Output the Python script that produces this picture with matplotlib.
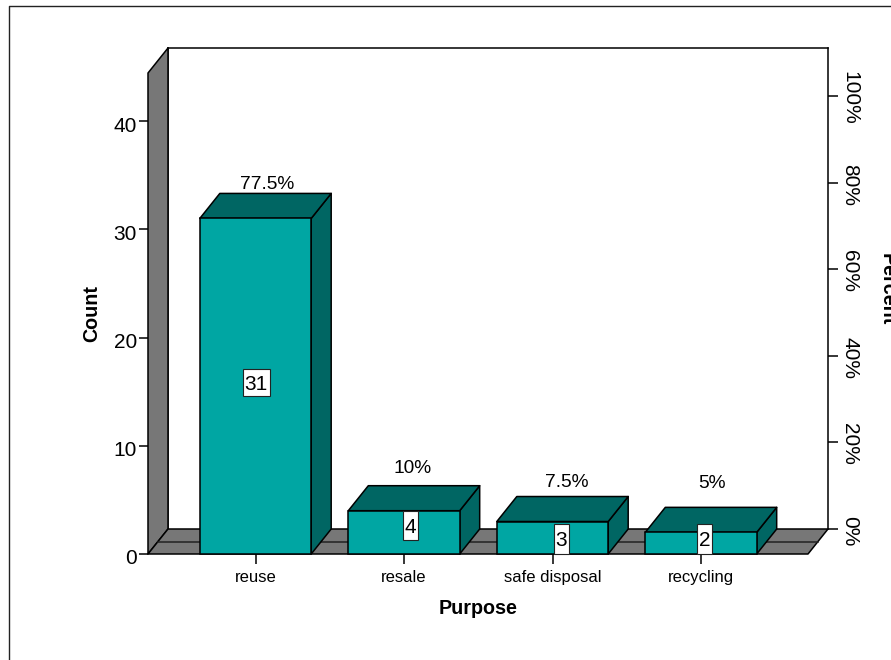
import matplotlib
matplotlib.use("Agg")
import matplotlib.pyplot as plt
from matplotlib.patches import Polygon, Rectangle
from matplotlib.transforms import ScaledTranslation

plt.rcParams["font.family"] = ["Liberation Sans", "DejaVu Sans"]

# Survey data
categories = ["reuse", "resale", "safe disposal", "recycling"]
counts = [31, 4, 3, 2]
percent_labels = ["77.5%", "10%", "7.5%", "5%"]
count_ticks = [0, 10, 20, 30, 40]
percent_ticks = [0, 20, 40, 60, 80, 100]
total_count = 40

# Colours
TEAL = "#00A6A3"
TEAL_DARK = "#006663"
WALL = "#777777"
INK = "#000000"

# Layout in pixels
W, H = 891, 660
FRONT_L, FRONT_R, FRONT_T, FRONT_B = 148, 808, 73, 554
DEPTH_X, DEPTH_Y = 20, 25
CAT_STEP = 148.5
CAT_START = 255.5
UNIT_PX = 10.825
BAR_WIDTH = 0.75
LW = 1.1

# Label placement relative to each bar, in pixels
pct_offset = [(2, 8.5), (-1, 17.5), (4.5, 14.5), (1, 23.5)]
box_center_y = [15.85, 2.6, 1.4, 1.4]
box_dx = [0.5, 6.5, 9, 3.5]
box_size = [(27, 27), (15, 29), (15, 30), (15, 30)]


def axes_rect(l, r, t, b):
    return [l / W, 1 - b / H, (r - l) / W, (b - t) / H]


fig = plt.figure(figsize=(W / 100, H / 100), dpi=100, facecolor="white")

# Outer frame, cut off by the right and bottom edges of the figure
fig.add_artist(plt.Line2D([9 / W, 9 / W, 1.0], [0, 1 - 6 / H, 1 - 6 / H],
                          transform=fig.transFigure, color="#222222", lw=1.0))

# Back plane carries the percent scale
back = fig.add_axes(axes_rect(FRONT_L + DEPTH_X, FRONT_R + DEPTH_X,
                              FRONT_T - DEPTH_Y, FRONT_B - DEPTH_Y), zorder=1)
back.set_ylim(0, (FRONT_B - FRONT_T) / UNIT_PX * 100 / total_count)
back.set_xlim(0, 1)
back.set_xticks([])
back.yaxis.tick_right()
back.set_yticks(percent_ticks)
back.set_yticklabels([f"{p}%" for p in percent_ticks], rotation=-90,
                     va="center", ha="left", fontsize=15, color=INK)
back.tick_params(axis="y", length=7.2, width=LW, pad=1.5)
back.spines["bottom"].set_visible(False)
for side in ("left", "right", "top"):
    back.spines[side].set_linewidth(LW)
shift_right = ScaledTranslation(0, -2 / 72 * 0.72, fig.dpi_scale_trans)
for lab in back.get_yticklabels():
    lab.set_transform(lab.get_transform() + shift_right)

# Front plane carries the count scale and the bars
ax = fig.add_axes(axes_rect(FRONT_L, FRONT_R, FRONT_T, FRONT_B), zorder=2)
ax.patch.set_visible(False)
x0 = (FRONT_L - CAT_START) / CAT_STEP
x1 = (FRONT_R - CAT_START) / CAT_STEP
y1 = (FRONT_B - FRONT_T) / UNIT_PX
ax.set_xlim(x0, x1)
ax.set_ylim(0, y1)
for side in ax.spines:
    ax.spines[side].set_visible(False)

dx = DEPTH_X / CAT_STEP
dy = DEPTH_Y / UNIT_PX
edge = dict(edgecolor=INK, linewidth=LW, joinstyle="round", clip_on=False)

# Left wall and floor
ax.add_patch(Polygon([(x0, 0), (x0 + dx, dy), (x0 + dx, y1 + dy), (x0, y1)],
                     facecolor=WALL, zorder=1, **edge))
ax.add_patch(Polygon([(x0, 0), (x0 + dx, dy), (x1 + dx, dy), (x1, 0)],
                     facecolor=WALL, zorder=1, **edge))
ax.plot([x0 + dx / 2, x1 + dx / 2], [dy / 2, dy / 2], color="#222222",
        lw=LW, zorder=1.5, clip_on=False)

positions = list(range(len(categories)))

# Bars: side and top faces behind the front face
for i, v in zip(positions, counts):
    l, r = i - BAR_WIDTH / 2, i + BAR_WIDTH / 2
    ax.add_patch(Polygon([(r, 0), (r + dx, dy), (r + dx, v + dy), (r, v)],
                         facecolor=TEAL_DARK, zorder=2, **edge))
    ax.add_patch(Polygon([(l, v), (l + dx, v + dy), (r + dx, v + dy), (r, v)],
                         facecolor=TEAL_DARK, zorder=2, **edge))
ax.bar(positions, counts, width=BAR_WIDTH, color=TEAL, edgecolor=INK,
       linewidth=LW, zorder=3, clip_on=False)

# Percent labels above the bars
for i, v, txt, (ox, oy) in zip(positions, counts, percent_labels, pct_offset):
    ax.annotate(txt, xy=(i + dx / 2, v + dy), xytext=(ox * 0.72, oy * 0.72),
                textcoords="offset points", ha="center", va="center",
                fontsize=13.8, color=INK, zorder=5, annotation_clip=False)

# Boxed counts on the bars
for i, v, cy, bx, (bw, bh) in zip(positions, counts, box_center_y, box_dx, box_size):
    cx = i + bx / CAT_STEP
    w, h = bw / CAT_STEP, bh / UNIT_PX
    ax.add_patch(Rectangle((cx - w / 2, cy - h / 2), w, h, facecolor="white",
                           edgecolor="#222222", linewidth=0.8, zorder=4,
                           clip_on=False))
    ax.text(cx, cy, str(v), ha="center", va="center_baseline", fontsize=15,
            color=INK, zorder=5)

# Axes ticks and titles
ax.set_yticks(count_ticks)
ax.set_yticklabels([str(c) for c in count_ticks])
ax.tick_params(axis="y", length=6.5, width=LW, labelsize=15, pad=1.5)
shift_left = ScaledTranslation(0, -3 / 72 * 0.72, fig.dpi_scale_trans)
for lab in ax.get_yticklabels():
    lab.set_transform(lab.get_transform() + shift_left)
ax.set_xticks(positions)
ax.set_xticklabels(categories)
ax.tick_params(axis="x", length=7.2, width=LW, labelsize=12, pad=4)

fig.text(478 / W, 1 - 608.5 / H, "Purpose", fontsize=14.2, fontweight="bold",
         ha="center", va="center")
fig.text(92 / W, 1 - 313.5 / H, "Count", fontsize=14.2, fontweight="bold",
         rotation=90, ha="center", va="center")
fig.text(878 / W, 1 - 289 / H, "Percent", fontsize=14.2, fontweight="bold",
         rotation=-90, ha="left", va="center", clip_on=False)

fig.savefig("out.png", dpi=100, facecolor="white")
